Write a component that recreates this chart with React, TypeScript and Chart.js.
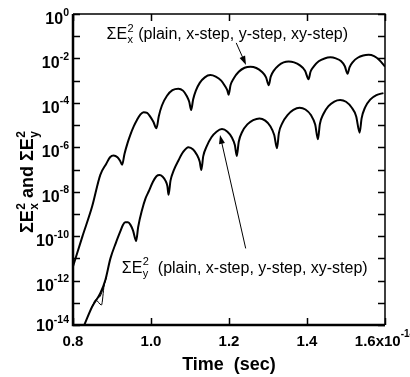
import React, { useEffect, useRef } from "react";
import { Chart, registerables } from "chart.js";
Chart.register(...registerables);

// Time in units of 1e-14 s
const exTime = [0.800, 0.824, 0.849, 0.870, 0.885, 0.895, 0.904, 0.914, 0.921, 0.926, 0.932, 0.940, 0.947, 0.956, 0.964, 0.973, 0.981, 0.990, 0.998, 1.006, 1.014, 1.020, 1.028, 1.041, 1.055, 1.070, 1.082, 1.092, 1.098, 1.103, 1.108, 1.115, 1.125, 1.138, 1.152, 1.166, 1.180, 1.190, 1.196, 1.199, 1.204, 1.212, 1.225, 1.240, 1.255, 1.270, 1.284, 1.295, 1.302, 1.307, 1.315, 1.327, 1.340, 1.353, 1.367, 1.381, 1.395, 1.404, 1.409, 1.418, 1.430, 1.445, 1.460, 1.474, 1.487, 1.497, 1.504, 1.509, 1.518, 1.530, 1.544, 1.558, 1.572, 1.586, 1.600];
const exValue = [4.27e-12, 9.55e-11, 2.14e-9, 5.75e-8, 1.78e-7, 3.55e-7, 4.27e-7, 3.55e-7, 2.40e-7, 1.62e-7, 5.01e-7, 1.58e-6, 3.63e-6, 8.91e-6, 1.70e-5, 3.02e-5, 3.80e-5, 3.55e-5, 2.40e-5, 1.41e-5, 7.24e-6, 2.51e-5, 7.59e-5, 2.09e-4, 3.72e-4, 4.37e-4, 3.55e-4, 2.0e-4, 1.12e-4, 4.79e-5, 1.41e-4, 3.55e-4, 7.94e-4, 1.41e-3, 1.78e-3, 1.51e-3, 1.0e-3, 5.62e-4, 3.55e-4, 2.29e-4, 6.31e-4, 1.26e-3, 2.51e-3, 3.80e-3, 4.27e-3, 3.72e-3, 2.51e-3, 1.41e-3, 6.17e-4, 1.51e-3, 2.82e-3, 4.79e-3, 6.61e-3, 7.24e-3, 6.61e-3, 5.01e-3, 2.82e-3, 1.17e-3, 2.51e-3, 4.47e-3, 7.41e-3, 1.0e-2, 1.12e-2, 1.0e-2, 7.59e-3, 4.47e-3, 2.04e-3, 3.98e-3, 7.08e-3, 1.07e-2, 1.35e-2, 1.45e-2, 1.26e-2, 8.32e-3, 4.27e-3];

const eyTime = [0.829, 0.849, 0.870, 0.883, 0.896, 0.910, 0.921, 0.928, 0.934, 0.941, 0.947, 0.954, 0.962, 0.967, 0.977, 0.986, 0.994, 1.005, 1.014, 1.022, 1.030, 1.037, 1.042, 1.045, 1.050, 1.058, 1.071, 1.083, 1.096, 1.108, 1.118, 1.125, 1.129, 1.134, 1.143, 1.155, 1.168, 1.182, 1.196, 1.207, 1.215, 1.220, 1.225, 1.234, 1.247, 1.262, 1.278, 1.293, 1.306, 1.316, 1.323, 1.328, 1.337, 1.350, 1.365, 1.381, 1.396, 1.410, 1.421, 1.428, 1.433, 1.442, 1.455, 1.470, 1.485, 1.500, 1.514, 1.526, 1.535, 1.540, 1.549, 1.562, 1.578, 1.596];
const eyValue = [1.0e-14, 6.61e-14, 2.69e-13, 1.07e-12, 1.0e-11, 5.01e-11, 1.58e-10, 3.16e-10, 4.17e-10, 4.17e-10, 3.31e-10, 1.78e-10, 6.03e-11, 2.51e-10, 1.51e-9, 5.01e-9, 1.02e-8, 2.82e-8, 5.01e-8, 5.62e-8, 4.68e-8, 3.16e-8, 1.78e-8, 7.24e-9, 3.16e-8, 8.91e-8, 2.69e-7, 6.31e-7, 1.0e-6, 7.94e-7, 4.47e-7, 2.24e-7, 9.55e-8, 3.98e-7, 1.12e-6, 2.82e-6, 5.01e-6, 6.61e-6, 5.01e-6, 2.82e-6, 1.26e-6, 4.07e-7, 1.78e-6, 5.01e-6, 1.07e-5, 1.66e-5, 2.0e-5, 1.58e-5, 8.91e-6, 3.55e-6, 9.12e-7, 4.47e-6, 1.26e-5, 2.82e-5, 4.79e-5, 6.03e-5, 5.01e-5, 2.82e-5, 1.05e-5, 2.29e-6, 1.12e-5, 3.16e-5, 7.08e-5, 1.15e-4, 1.35e-4, 1.12e-4, 6.31e-5, 2.51e-5, 4.57e-6, 2.0e-5, 6.31e-5, 1.41e-4, 2.24e-4, 2.75e-4];

// thin variants (x-step, y-step) that separate slightly early on
const eyVarATime = [0.849, 0.858, 0.873, 0.880, 0.886];
const eyVarAValue = [6.61e-14, 1.35e-13, 7.94e-14, 6.31e-13, 1.5e-12];
const eyVarBTime = [0.849, 0.862, 0.870, 0.878, 0.886];
const eyVarBValue = [6.61e-14, 1.6e-13, 2.0e-13, 5.0e-13, 1.5e-12];

const xTicks = [0.8, 1.0, 1.2, 1.4, 1.6];
const xTickLabels = ["0.8", "1.0", "1.2", "1.4", "1.6x10"];
const yDecades = [0, -1, -2, -3, -4, -5, -6, -7, -8, -9, -10, -11, -12, -13, -14];
const yLabelExps = ["0", "-2", "-4", "-6", "-8", "-10", "-12", "-14"];

const exLabelAt = [0.886, 7.2e-2];
const eyLabelAt = [0.925, 2.3e-12];
const exArrow = [[1.2185, 5.0e-2], [1.2436, 5.1e-3]];
const eyArrow = [[1.2428, 2.8e-11], [1.1769, 3.6e-6]];

const FONT = "'Liberation Sans', Arial, Helvetica, sans-serif";

const pts = (t: number[], v: number[]) => t.map((x, i) => ({ x, y: v[i] }));

function drawArrow(ctx: CanvasRenderingContext2D, x1: number, y1: number, x2: number, y2: number) {
  const ang = Math.atan2(y2 - y1, x2 - x1);
  const L = 9, W = 3;
  ctx.beginPath();
  ctx.moveTo(x1, y1);
  ctx.lineTo(x2 - Math.cos(ang) * (L - 1), y2 - Math.sin(ang) * (L - 1));
  ctx.lineWidth = 1;
  ctx.strokeStyle = "#000";
  ctx.stroke();
  ctx.beginPath();
  ctx.moveTo(x2, y2);
  ctx.lineTo(x2 - Math.cos(ang) * L - Math.sin(ang) * W, y2 - Math.sin(ang) * L + Math.cos(ang) * W);
  ctx.lineTo(x2 - Math.cos(ang) * L + Math.sin(ang) * W, y2 - Math.sin(ang) * L - Math.cos(ang) * W);
  ctx.closePath();
  ctx.fillStyle = "#000";
  ctx.fill();
}

// draw "ΣE" with stacked sup "2" and sub letter, then rest text; left-aligned at (x, y baseline)
function drawSigmaLabel(ctx: CanvasRenderingContext2D, x: number, y: number, sub: string, rest: string, size: number, weight: string) {
  const base = `${weight} ${size}px ${FONT}`;
  const small = `${weight} ${Math.round(size * 0.7)}px ${FONT}`;
  ctx.textAlign = "left";
  ctx.textBaseline = "alphabetic";
  ctx.font = base;
  ctx.fillText("ΣE", x, y);
  let cx = x + ctx.measureText("ΣE").width;
  ctx.font = small;
  ctx.fillText("2", cx + 0.5, y - size * 0.45);
  ctx.fillText(sub, cx + 0.5, y + size * 0.25);
  cx += Math.max(ctx.measureText("2").width, ctx.measureText(sub).width) + 0.5;
  ctx.font = base;
  ctx.fillText(rest, cx, y);
  return cx + ctx.measureText(rest).width;
}

const decor = {
  id: "decor",
  afterDraw(chart: any) {
    const { ctx, chartArea } = chart;
    const { left, right, top, bottom } = chartArea;
    const xs = chart.scales.x;
    const ys = chart.scales.y;
    ctx.save();
    ctx.fillStyle = "#000";
    ctx.strokeStyle = "#000";

    // frame
    ctx.lineWidth = 1.5;
    ctx.beginPath();
    ctx.moveTo(left, top); ctx.lineTo(right, top); ctx.lineTo(right, bottom);
    ctx.stroke();
    ctx.lineWidth = 2.5;
    ctx.beginPath();
    ctx.moveTo(left, top); ctx.lineTo(left, bottom); ctx.lineTo(right, bottom);
    ctx.stroke();

    // ticks (inward)
    ctx.lineWidth = 1.5;
    const TL = 7;
    xTicks.forEach((t) => {
      const px = Math.round(xs.getPixelForValue(t)) + 0.5;
      ctx.beginPath();
      ctx.moveTo(px, bottom); ctx.lineTo(px, bottom - TL);
      ctx.moveTo(px, top); ctx.lineTo(px, top + TL);
      ctx.stroke();
    });
    yDecades.forEach((e) => {
      const py = Math.round(ys.getPixelForValue(Math.pow(10, e))) + 0.5;
      ctx.beginPath();
      ctx.moveTo(left, py); ctx.lineTo(left + TL, py);
      ctx.moveTo(right, py); ctx.lineTo(right - TL, py);
      ctx.stroke();
    });

    // x tick labels
    const bf = `bold 15px ${FONT}`;
    const sf = `bold 10px ${FONT}`;
    ctx.textBaseline = "alphabetic";
    xTicks.forEach((t, i) => {
      const px = xs.getPixelForValue(t);
      const lab = xTickLabels[i];
      if (i === xTicks.length - 1) {
        ctx.font = bf;
        const w1 = ctx.measureText(lab).width;
        ctx.font = sf;
        const w2 = ctx.measureText("-14").width;
        const x0 = px - (w1 + w2) / 2;
        ctx.font = bf;
        ctx.textAlign = "left";
        ctx.fillText(lab, x0, 345.5);
        ctx.font = sf;
        ctx.fillText("-14", x0 + w1, 337);
      } else {
        ctx.font = bf;
        ctx.textAlign = "center";
        ctx.fillText(lab, px, 345.5);
      }
    });

    // y tick labels
    const ybf = `bold 16px ${FONT}`;
    const ysf = `bold 10.5px ${FONT}`;
    yLabelExps.forEach((e) => {
      const py = ys.getPixelForValue(Math.pow(10, Number(e)));
      ctx.font = ysf;
      const ws = ctx.measureText(e).width;
      ctx.font = ybf;
      const wb = ctx.measureText("10").width;
      const xr = 69;
      let by = py + 10;
      if (by > 331) by = 331;
      ctx.textAlign = "left";
      ctx.fillText("10", xr - ws - wb, by);
      ctx.font = ysf;
      ctx.fillText(e, xr - ws, by - 8.5);
    });

    // axis titles
    ctx.font = `bold 18px ${FONT}`;
    ctx.textAlign = "center";
    ctx.fillText("Time  (sec)", (left + right) / 2, 370);

    ctx.save();
    ctx.translate(33, 182);
    ctx.rotate(-Math.PI / 2);
    const big = `bold 18px ${FONT}`;
    const sm = `bold 12px ${FONT}`;
    ctx.font = big;
    const wSE = ctx.measureText("ΣE").width;
    const wAnd = ctx.measureText(" and ").width;
    ctx.font = sm;
    const wSc = Math.max(ctx.measureText("x").width, ctx.measureText("2").width);
    const total = 2 * wSE + 2 * wSc + wAnd + 1;
    let cx = -total / 2;
    ctx.textAlign = "left";
    const part = (sub: string) => {
      ctx.font = big;
      ctx.fillText("ΣE", cx, 0);
      cx += wSE;
      ctx.font = sm;
      ctx.fillText("2", cx + 0.5, -8);
      ctx.fillText(sub, cx + 0.5, 5);
      cx += wSc + 0.5;
    };
    part("x");
    ctx.font = big;
    ctx.fillText(" and ", cx, 0);
    cx += wAnd;
    part("y");
    ctx.restore();

    // annotations
    drawSigmaLabel(ctx, xs.getPixelForValue(exLabelAt[0]), ys.getPixelForValue(exLabelAt[1]), "x", " (plain, x-step, y-step, xy-step)", 16, "normal");
    drawSigmaLabel(ctx, xs.getPixelForValue(eyLabelAt[0]), ys.getPixelForValue(eyLabelAt[1]), "y", "  (plain, x-step, y-step, xy-step)", 16, "normal");

    drawArrow(ctx, xs.getPixelForValue(exArrow[0][0]), ys.getPixelForValue(exArrow[0][1]), xs.getPixelForValue(exArrow[1][0]), ys.getPixelForValue(exArrow[1][1]));
    drawArrow(ctx, xs.getPixelForValue(eyArrow[0][0]), ys.getPixelForValue(eyArrow[0][1]), xs.getPixelForValue(eyArrow[1][0]), ys.getPixelForValue(eyArrow[1][1]));

    ctx.restore();
  },
};

export default function App() {
  const ref = useRef<HTMLCanvasElement>(null);
  useEffect(() => {
    document.body.style.margin = "0";
    const lineDs = (label: string, data: any[], w: number) => ({
      label,
      data,
      borderColor: "#000",
      backgroundColor: "#000",
      borderWidth: w,
      pointRadius: 0,
      fill: false,
      cubicInterpolationMode: "monotone" as const,
    });
    const chart = new Chart(ref.current as HTMLCanvasElement, {
      type: "line",
      data: {
        datasets: [
          lineDs("Ex", pts(exTime, exValue), 2),
          lineDs("Ey x-step", pts(eyVarATime, eyVarAValue), 1),
          lineDs("Ey y-step", pts(eyVarBTime, eyVarBValue), 1),
          lineDs("Ey", pts(eyTime, eyValue), 2),
        ],
      },
      options: {
        animation: false,
        responsive: false,
        devicePixelRatio: 1,
        layout: { padding: { left: 73, right: 25, top: 14, bottom: 52 } },
        scales: {
          x: { type: "linear", min: 0.8, max: 1.6, display: false },
          y: { type: "logarithmic", min: 1e-14, max: 1, display: false },
        },
        plugins: { legend: { display: false }, tooltip: { enabled: false } },
      },
      plugins: [decor],
    });
    return () => chart.destroy();
  }, []);
  return <canvas ref={ref} width={410} height={377} style={{ display: "block" }} />;
}
